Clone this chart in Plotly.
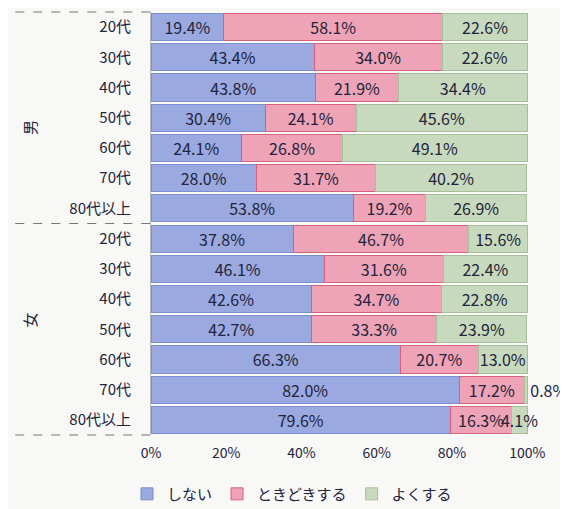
import plotly.graph_objects as go

groups = ["男"] * 7 + ["女"] * 7
ages = ["20代", "30代", "40代", "50代", "60代", "70代", "80代以上"] * 2
shinai = [19.4, 43.4, 43.8, 30.4, 24.1, 28.0, 53.8,
          37.8, 46.1, 42.6, 42.7, 66.3, 82.0, 79.6]
tokidoki = [58.1, 34.0, 21.9, 24.1, 26.8, 31.7, 19.2,
            46.7, 31.6, 34.7, 33.3, 20.7, 17.2, 16.3]
yoku = [22.6, 22.6, 34.4, 45.6, 49.1, 40.2, 26.9,
        15.6, 22.4, 22.8, 23.9, 13.0, 0.8, 4.1]
series_names = ["しない", "ときどきする", "よくする"]
x_ticks = [0, 20, 40, 60, 80, 100]

cats = [f"{g}|{a}" for g, a in zip(groups, ages)]

font_family = "Noto Sans CJK JP"
text_color = "#23233c"
label_size = 16

fig = go.Figure()
styles = [
    ("#9aa9df", "#7b8dd4"),
    ("#eea3b6", "#d8607f"),
    ("#c8dabd", "#a6bf98"),
]
for name, vals, (fill, edge) in zip(series_names, [shinai, tokidoki, yoku], styles):
    if name == "よくする":
        pos = ["outside" if v < 2 else "inside" for v in vals]
    else:
        pos = "inside"
    fig.add_trace(go.Bar(
        y=cats, x=vals, name=name, orientation="h",
        marker=dict(color=fill, line=dict(color=edge, width=1)),
        texttemplate="%{x:.1f}%", textposition=pos, textangle=0,
        insidetextanchor="middle",
        textfont=dict(size=label_size, color=text_color, family=font_family),
        cliponaxis=False,
    ))

fig.update_layout(
    barmode="stack",
    bargap=0.1,
    width=568, height=509,
    margin=dict(l=143, r=48, t=4, b=82),
    paper_bgcolor="#f8f8f6",
    plot_bgcolor="#fbfbfa",
    font=dict(family=font_family, color=text_color, size=14),
    uniformtext=dict(mode="show", minsize=label_size),
    legend=dict(orientation="h", xref="container", x=0.5, xanchor="center",
                yref="container", y=0.045, yanchor="middle",
                font=dict(size=15), itemwidth=30, traceorder="normal",
                bgcolor="rgba(0,0,0,0)"),
    xaxis=dict(range=[0, 100.2], tickvals=x_ticks,
               ticktext=[f"{t}%" for t in x_ticks],
               showgrid=False, zeroline=False, showline=False,
               tickfont=dict(size=14), ticks="", ticklabelstandoff=8),
    yaxis=dict(categoryorder="array", categoryarray=cats,
               autorange="reversed",
               tickvals=cats, ticktext=ages,
               tickfont=dict(size=15), ticks="",
               showgrid=False, zeroline=False,
               showline=True, linecolor="#bbbbbb", linewidth=1,
               ticklabelstandoff=16),
)

for yy in [1.0, 0.5, 0.0]:
    fig.add_shape(type="line", xref="paper", yref="paper",
                  x0=-0.36, x1=0, y0=yy, y1=yy,
                  line=dict(color="#777777", width=1, dash="dash"))

for g, yy in [("男", 0.75), ("女", 0.25)]:
    fig.add_annotation(text=g, xref="paper", yref="paper",
                       x=-0.355, y=yy, showarrow=False, textangle=-90,
                       font=dict(size=15, color=text_color, family=font_family))

fig.write_html("out.html")
